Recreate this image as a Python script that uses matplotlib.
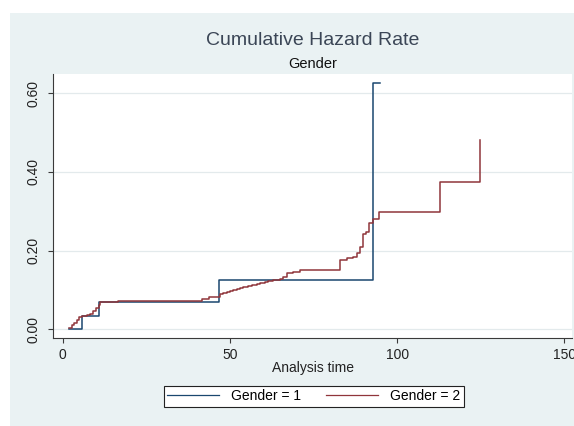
import matplotlib
matplotlib.use("Agg")
import matplotlib.pyplot as plt
from matplotlib.patches import Rectangle

plt.rcParams['font.family'] = ['Liberation Sans', 'DejaVu Sans']

# ---- data ----
blue_t = [1.9, 5.9, 10.9, 46.8, 92.9, 94.9]
blue_h = [0.000, 0.034, 0.069, 0.125, 0.625, 0.625]

red_t = [1.9, 2.7, 3.5, 4.2, 4.9, 5.9, 7.2, 8.2, 9.2, 9.9, 10.7, 11.2, 16.6,
         41.6, 43.8, 47.0, 48.0, 49.0, 50.0, 51.0, 52.0, 53.0, 54.0, 55.5,
         56.5, 58.0, 59.0, 60.5, 61.5, 63.0, 64.0, 65.0, 66.0, 67.0, 69.0,
         71.0, 83.0, 85.0, 86.7, 88.1, 88.9, 89.7, 90.7, 91.7, 92.7, 94.7,
         112.8, 124.8]
red_h = [0.004, 0.010, 0.017, 0.024, 0.031, 0.034, 0.036, 0.039, 0.046, 0.053,
         0.062, 0.069, 0.072, 0.076, 0.083, 0.090, 0.092, 0.095, 0.097, 0.100,
         0.102, 0.104, 0.107, 0.110, 0.112, 0.116, 0.118, 0.120, 0.122, 0.125,
         0.126, 0.128, 0.134, 0.144, 0.1465, 0.150, 0.175, 0.1805, 0.185, 0.193,
         0.210, 0.2415, 0.247, 0.2695, 0.2805, 0.297, 0.375, 0.481]

labels = ["Gender = 1", "Gender = 2"]
x_ticks = [0, 50, 100, 150]
y_ticks = [0.0, 0.2, 0.4, 0.6]
y_ticklabels = ["0.00", "0.20", "0.40", "0.60"]

title = "Cumulative Hazard Rate"
subtitle = "Gender"
xlabel = "Analysis time"

# ---- style ----
W, H = 574, 426
BG = "#EAF2F3"
NAVY = "#1A476F"
MAROON = "#90353B"
GRID = "#E3EAEC"
AXC = "#3a3a3a"

fig = plt.figure(figsize=(W / 100, H / 100), dpi=100, facecolor="white")
fig.patches.append(Rectangle((10 / W, 0), 1 - 10 / W, 1 - 13 / H,
                             transform=fig.transFigure, facecolor=BG,
                             edgecolor="none", zorder=-10))

left, right, top, bottom = 52.7, 572.0, 74.0, 338.3
ax = fig.add_axes([left / W, 1 - bottom / H, (right - left) / W, (bottom - top) / H])
ax.set_facecolor("white")

ax.step(blue_t, blue_h, where="post", color=NAVY, lw=1.1, label=labels[0], zorder=3)
ax.step(red_t, red_h, where="post", color=MAROON, lw=1.1, label=labels[1], zorder=4)

ax.set_xlim(-3.0, 152.3)
ax.set_ylim(-0.0229, 0.649)
ax.set_xticks(x_ticks)
ax.set_yticks(y_ticks)
ax.set_yticklabels(y_ticklabels, rotation=90, va="center")
ax.yaxis.grid(True, color=GRID, lw=0.9)
ax.set_axisbelow(True)

for s in ["top", "right"]:
    ax.spines[s].set_visible(False)
for s in ["left", "bottom"]:
    ax.spines[s].set_color(AXC)
    ax.spines[s].set_linewidth(0.8)

ax.tick_params(axis="both", length=3.6, width=0.8, color=AXC, labelsize=10,
               labelcolor="#222222")
ax.tick_params(axis="y", pad=5.5)
ax.tick_params(axis="x", pad=3.2)

ax.set_xlabel(xlabel, fontsize=10, color="#222222", va="center")
ax.xaxis.set_label_coords(0.5 + (313 - (left + right) / 2) / (right - left),
                          -(368 - bottom) / (bottom - top))

fig.text(313 / W, 1 - 45 / H, title, ha="center", va="baseline",
         fontsize=14, color="#3b4656")
fig.text(313 / W, 1 - 68.3 / H, subtitle, ha="center", va="baseline",
         fontsize=10.5, color="#111111")

leg = ax.legend(ncol=2, loc="center", bbox_to_anchor=(313.7 / W, 1 - 396.3 / H),
                bbox_transform=fig.transFigure, fontsize=10, frameon=True,
                fancybox=False, edgecolor="#222222", facecolor="white",
                framealpha=1, handlelength=3.75, handletextpad=0.86,
                columnspacing=1.8, borderpad=0.25, borderaxespad=0)
leg.get_frame().set_linewidth(0.8)
for line in leg.get_lines():
    line.set_linewidth(0.9)

fig.savefig("out.png", dpi=100, facecolor=fig.get_facecolor())
